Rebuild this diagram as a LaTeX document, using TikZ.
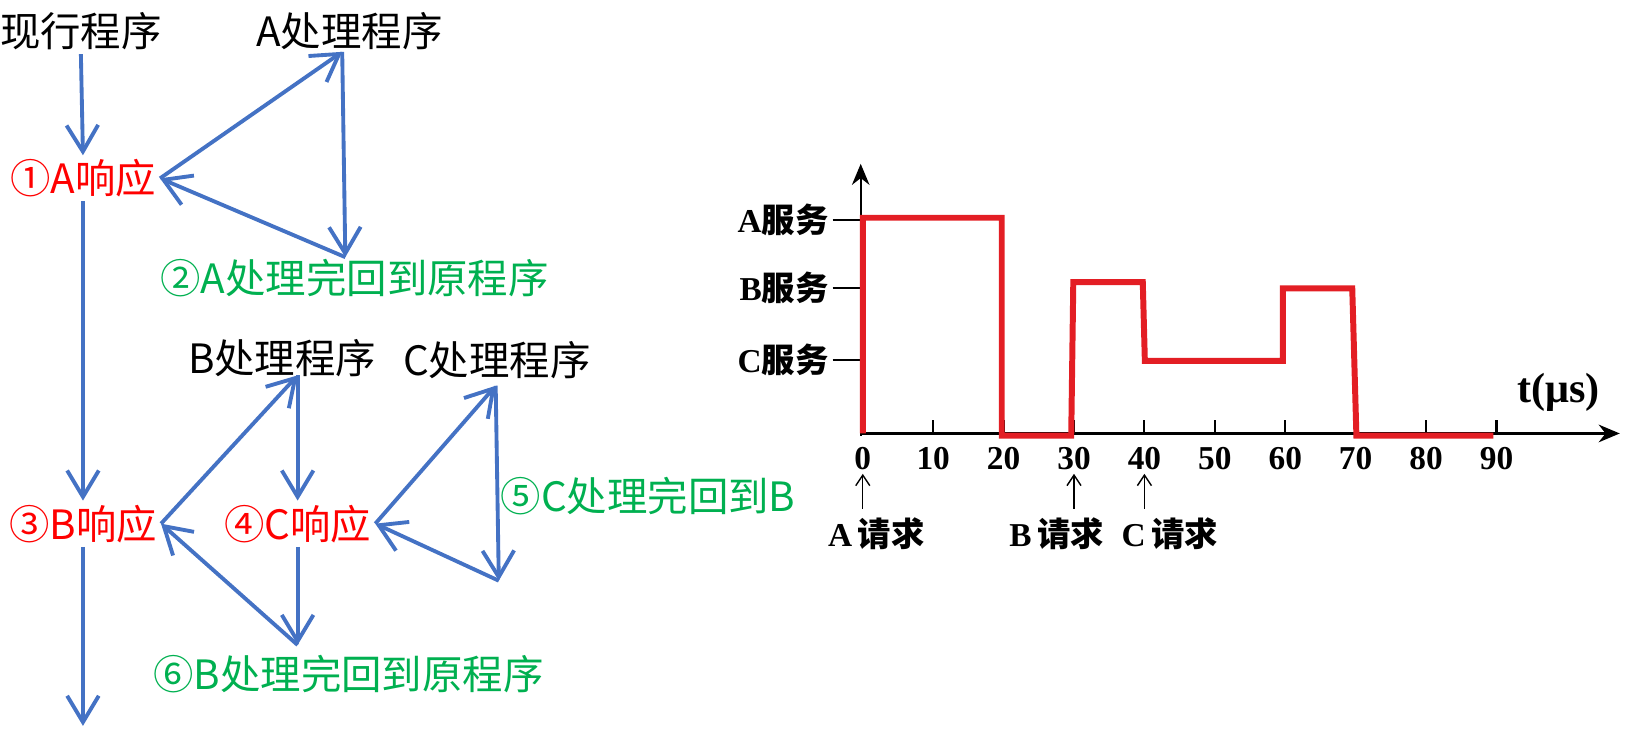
\documentclass[tikz,border=0pt]{standalone}
\usepackage{fontspec}
\setmainfont{Liberation Serif}
\newfontfamily\cjk{Noto Sans CJK SC}
\usepackage{tikz}
\usetikzlibrary{arrows.meta, calc}
\usepackage{xcolor}
\definecolor{flowBlue}{HTML}{4472C4}
\definecolor{respRed}{HTML}{FF0000}
\definecolor{backGreen}{HTML}{00B050}
\definecolor{servRed}{HTML}{E31E24}
\tikzset{
    ProgText/.style={font=\cjk\fontsize{11.5}{14}\selectfont, inner sep=1pt},
    RespText/.style={ProgText, text=respRed},
    BackText/.style={ProgText, text=backGreen},
    FlowArrow/.style={flowBlue, line width=1.1pt, -{Straight Barb[length=7.5pt, width=9pt]}},
    AxisArrow/.style={-{Stealth[length=6pt, width=5pt]}, line width=0.8pt},
    ServLine/.style={servRed, line width=1.7pt},
    ChartText/.style={font=\fontsize{9.5}{11}\selectfont\bfseries, inner sep=1pt},
    ReqArrow/.style={-{Straight Barb[length=3pt, width=4pt]}, line width=0.4pt}
}

\begin{document}
\begin{tikzpicture}[x=0.01037cm, y=-0.01037cm]
    \useasboundingbox (0,0) rectangle (1568,704);

    % 中断嵌套流程
    \node[ProgText] (cur) at (78,30) {现行程序};
    \node[ProgText] (pa) at (337,30) {A处理程序};
    \node[RespText] (ra) at (80,172) {①A响应};
    \node[BackText] (da) at (342,268) {②A处理完回到原程序};
    \coordinate (atop) at (330,50);
    \coordinate (abot) at (333,248);

    \node[ProgText] (pb) at (272,345) {B处理程序};
    \node[ProgText] (pc) at (479,347) {C处理程序};
    \node[RespText] (rb) at (80,505) {③B响应};
    \node[RespText] (rc) at (287,505) {④C响应};
    \node[BackText] (dc) at (625,478) {⑤C处理完回到B};
    \node[BackText] (db) at (336,650) {⑥B处理完回到原程序};
    \coordinate (btop) at (287,362);
    \coordinate (bbot) at (287,622);
    \coordinate (ctop) at (478,372);
    \coordinate (cbot) at (481,560);
    \coordinate (tail) at (80,700);

    \draw[FlowArrow] (cur.south) -- (ra.north);
    \draw[FlowArrow] (ra.south) -- (rb.north);
    \draw[FlowArrow] (rb.south) -- (tail);
    \draw[FlowArrow] (ra.east) -- (atop);
    \draw[FlowArrow] (atop) -- (abot);
    \draw[FlowArrow] (abot) -- (ra.east);
    \draw[FlowArrow] (rb.east) -- (btop);
    \draw[FlowArrow] (btop) -- (rc.north);
    \draw[FlowArrow] (rc.south) -- (bbot);
    \draw[FlowArrow] (bbot) -- (rb.east);
    \draw[FlowArrow] (rc.east) -- (ctop);
    \draw[FlowArrow] (ctop) -- (cbot);
    \draw[FlowArrow] (cbot) -- (rc.east);

    % 时序图
    \coordinate (orig) at (830,418);
    \draw[AxisArrow] (orig) -- (1562,418);
    \draw[AxisArrow, line width=0.6pt] (830,420) -- (830,158);
    \node[ChartText, anchor=east] (sa) at (803,212) {A{\cjk 服务}};
    \node[ChartText, anchor=east] (sb) at (803,278) {B{\cjk 服务}};
    \node[ChartText, anchor=east] (sc) at (803,347) {C{\cjk 服务}};
    \foreach \s in {sa,sb,sc} {
        \draw[line width=0.5pt] (\s.east) -- (\s.east -| orig);
    }
    \node[ChartText, font=\fontsize{12}{14}\selectfont\bfseries] (unit) at (1503,378) {t(μs)};

    \foreach \t in {10,20,...,90} {
        \draw[line width=0.6pt] (832+6.79*\t,418) -- ++(0,-13);
    }
    \foreach \t in {0,10,...,90} {
        \node[ChartText] (t\t) at (832+6.79*\t,442) {\t};
    }

    \draw[ServLine] (832,418) -- (832,210) -- (966,210) -- (966,420) -- (1033,420)
        -- (1035,272) -- (1102,272) -- (1104,348) -- (1237,348) -- (1237,278)
        -- (1304,278) -- (1308,420) -- (1440,420);

    \node[ChartText] (qa) at (845,515) {A\,{\cjk 请求}};
    \node[ChartText] (qb) at (1019,515) {B\,{\cjk 请求}};
    \node[ChartText] (qc) at (1128,515) {C\,{\cjk 请求}};
    \draw[ReqArrow] ($(qa.north -| t0)+(0,-5)$) -- (t0.south);
    \draw[ReqArrow] ($(qb.north -| t30)+(0,-5)$) -- (t30.south);
    \draw[ReqArrow] ($(qc.north -| t40)+(0,-5)$) -- (t40.south);
\end{tikzpicture}
\end{document}
